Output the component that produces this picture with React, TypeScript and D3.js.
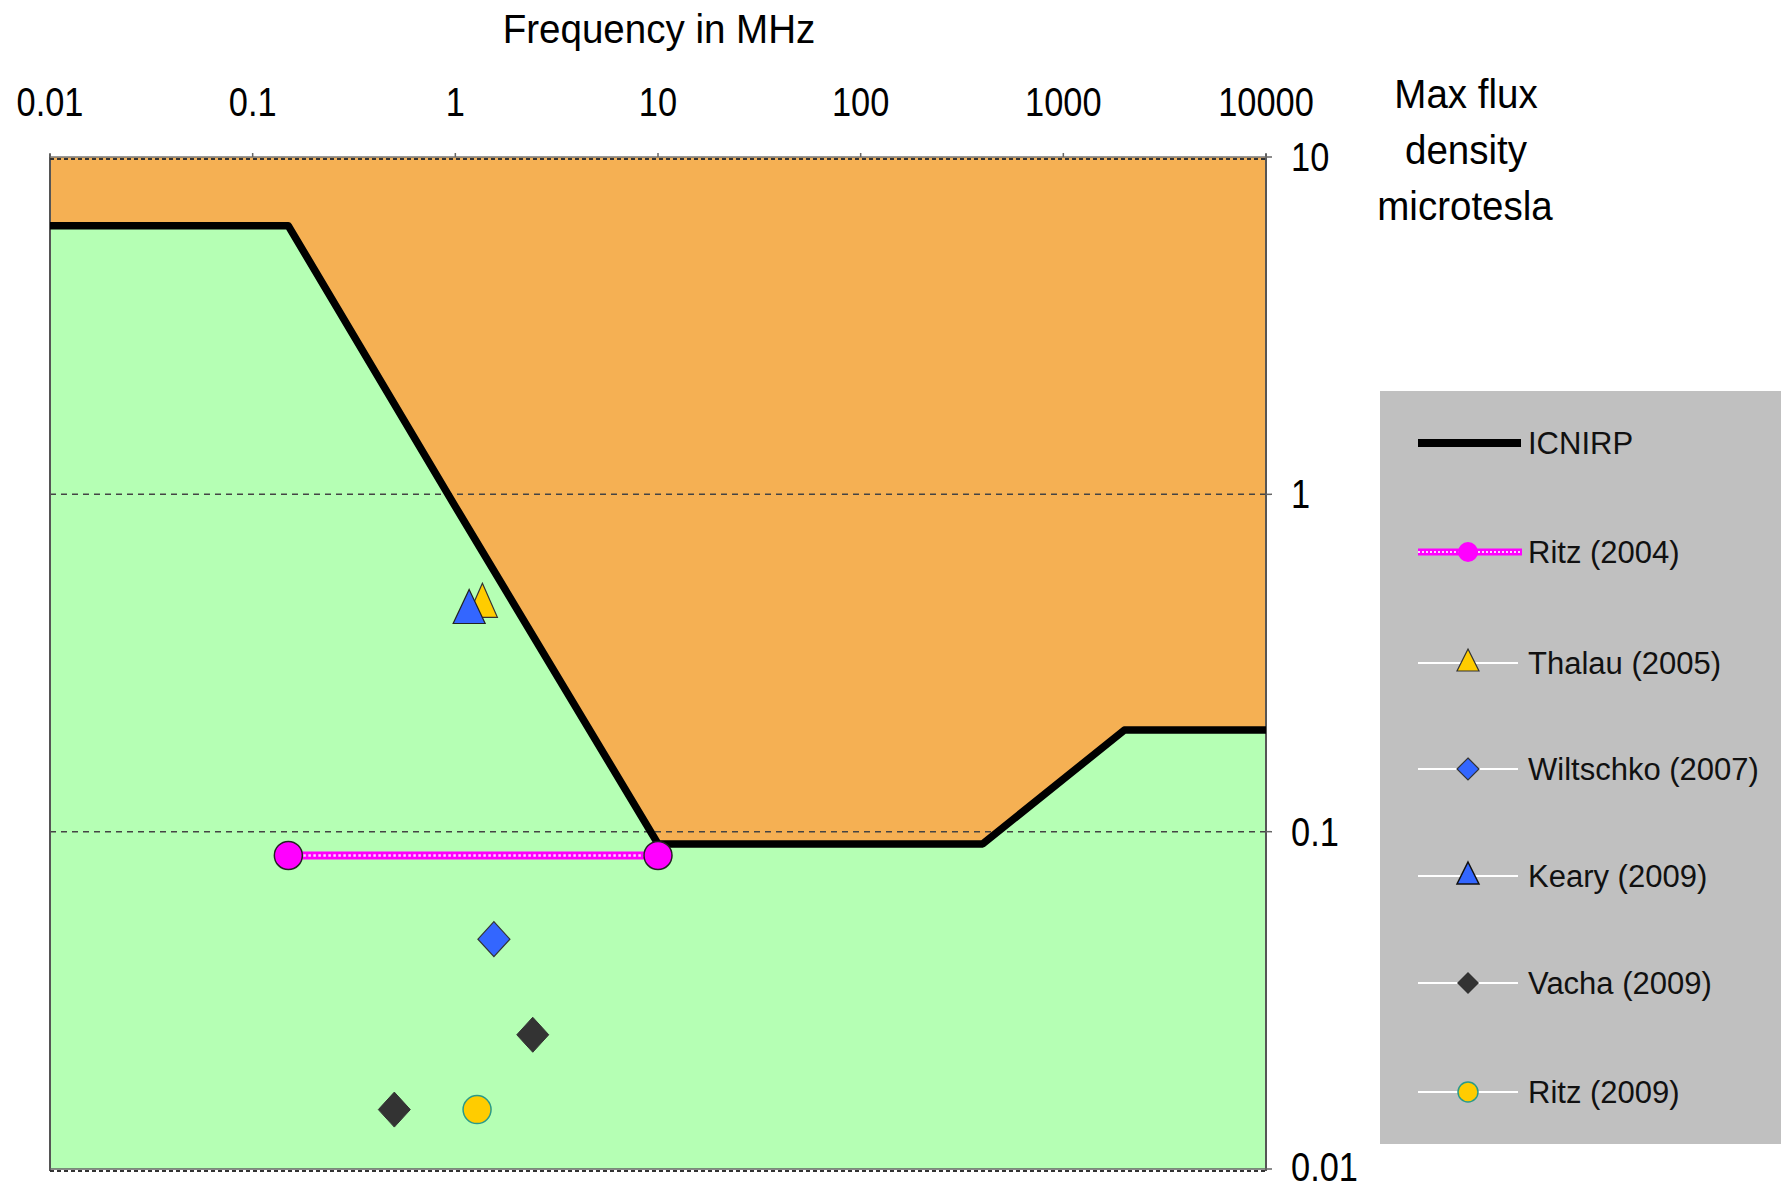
import React, { useEffect, useRef } from "react";
import * as d3 from "d3";

// axis ticks
const freqTicks = [0.01, 0.1, 1, 10, 100, 1000, 10000];
const freqLabels = ["0.01", "0.1", "1", "10", "100", "1000", "10000"];
const fluxTicks = [10, 1, 0.1, 0.01];
const fluxLabels = ["10", "1", "0.1", "0.01"];

// ICNIRP limit (MHz, microtesla)
const icnirpFreq = [0.01, 0.15, 1, 10, 400, 2000, 10000];
const icnirpFlux = [6.25, 6.25, 0.92, 0.092, 0.092, 0.2, 0.2];

// studies
const ritz2004Freq = [0.15, 10];
const ritz2004Flux = [0.085, 0.085];
const thalauFreq = [1.36];
const thalauFlux = [0.485];
const wiltschkoFreq = [1.55];
const wiltschkoFlux = [0.048];
const kearyFreq = [1.17];
const kearyFlux = [0.465];
const vachaFreq = [0.5, 2.41];
const vachaFlux = [0.015, 0.025];
const ritz2009Freq = [1.28];
const ritz2009Flux = [0.015];

const legendNames = ["ICNIRP", "Ritz (2004)", "Thalau (2005)", "Wiltschko (2007)", "Keary (2009)", "Vacha (2009)", "Ritz (2009)"];

const W = 1781;
const H = 1190;

function trianglePath(cx: number, cy: number, w: number, h: number) {
    const p = d3.path();
    p.moveTo(cx, cy - h / 2);
    p.lineTo(cx + w / 2, cy + h / 2);
    p.lineTo(cx - w / 2, cy + h / 2);
    p.closePath();
    return p.toString();
}

function diamondPath(cx: number, cy: number, w: number, h: number) {
    const p = d3.path();
    p.moveTo(cx, cy - h / 2);
    p.lineTo(cx + w / 2, cy);
    p.lineTo(cx, cy + h / 2);
    p.lineTo(cx - w / 2, cy);
    p.closePath();
    return p.toString();
}

export default function App() {
    const ref = useRef<SVGSVGElement>(null);

    useEffect(() => {
        document.body.style.margin = "0";
        const svg = d3.select(ref.current);
        svg.selectAll("*").remove();

        const x = d3.scaleLog().domain([0.01, 10000]).range([50, 1266]);
        const y = d3.scaleLog().domain([10, 0.01]).range([157, 1169]);

        const x0 = x(0.01), x1 = x(10000), yTop = y(10), yBot = y(0.01);

        // condensed text, like the narrow font of the original
        const narrow = (str: string, tx: number, ty: number, size: number, anchor: string, sx: number) => {
            svg.append("text")
                .attr("transform", "translate(" + tx + "," + ty + ") scale(" + sx + ",1)")
                .attr("text-anchor", anchor)
                .attr("font-family", "'Liberation Sans', Arial, sans-serif")
                .attr("font-size", size)
                .attr("fill", "#000")
                .text(str);
        };

        // orange zone above the limit
        svg.append("rect")
            .attr("x", x0).attr("y", yTop)
            .attr("width", x1 - x0).attr("height", yBot - yTop)
            .attr("fill", "#F5B053");

        const icnirp = icnirpFreq.map((f, i) => ({ f, b: icnirpFlux[i] }));

        // green zone below the limit
        svg.append("path")
            .datum(icnirp)
            .attr("fill", "#B5FFB4")
            .attr("d", d3.area<any>().x(d => x(d.f)).y0(yBot).y1(d => y(d.b)));

        // dashed gridlines
        [1, 0.1].forEach(v => {
            svg.append("line")
                .attr("x1", x0).attr("x2", x1 + 4)
                .attr("y1", y(v)).attr("y2", y(v))
                .attr("stroke", "#444").attr("stroke-width", 1.5)
                .attr("stroke-dasharray", "6 5");
        });

        // frame
        [x0, x1].forEach(v => {
            svg.append("line")
                .attr("x1", v).attr("x2", v)
                .attr("y1", yTop - 3).attr("y2", yBot + 2)
                .attr("stroke", "#555").attr("stroke-width", 2);
        });
        svg.append("line")
            .attr("x1", x0).attr("x2", x1).attr("y1", yTop).attr("y2", yTop)
            .attr("stroke", "#777").attr("stroke-width", 1.5);
        svg.append("line")
            .attr("x1", x0).attr("x2", x1).attr("y1", yTop + 2).attr("y2", yTop + 2)
            .attr("stroke", "#333").attr("stroke-width", 2).attr("stroke-dasharray", "4 3");
        svg.append("line")
            .attr("x1", x0).attr("x2", x1).attr("y1", yBot).attr("y2", yBot)
            .attr("stroke", "#666").attr("stroke-width", 1.5);
        svg.append("line")
            .attr("x1", x0).attr("x2", x1).attr("y1", yBot + 2).attr("y2", yBot + 2)
            .attr("stroke", "#333").attr("stroke-width", 2).attr("stroke-dasharray", "4 3");

        // axis ticks
        freqTicks.forEach(f => {
            svg.append("line")
                .attr("x1", x(f)).attr("x2", x(f))
                .attr("y1", yTop - 4).attr("y2", yTop)
                .attr("stroke", "#666").attr("stroke-width", 1.5);
        });
        fluxTicks.forEach(v => {
            svg.append("line")
                .attr("x1", x1).attr("x2", x1 + 6)
                .attr("y1", y(v)).attr("y2", y(v))
                .attr("stroke", "#666").attr("stroke-width", 1.5);
        });

        // ICNIRP limit line
        svg.append("path")
            .datum(icnirp)
            .attr("fill", "none")
            .attr("stroke", "#000")
            .attr("stroke-width", 7.5)
            .attr("stroke-linejoin", "round")
            .attr("d", d3.line<any>().x(d => x(d.f)).y(d => y(d.b)));

        // Ritz (2004) band
        const ritzLine = d3.line<number>().x(f => x(f)).y((f, i) => y(ritz2004Flux[i]));
        svg.append("path").attr("d", ritzLine(ritz2004Freq)).attr("fill", "none")
            .attr("stroke", "#FF00FF").attr("stroke-width", 8);
        svg.append("path").attr("d", ritzLine(ritz2004Freq)).attr("fill", "none")
            .attr("stroke", "#FFD0FF").attr("stroke-width", 2.5).attr("stroke-dasharray", "2.5 2.5");
        ritz2004Freq.forEach((f, i) => {
            svg.append("circle").attr("cx", x(f)).attr("cy", y(ritz2004Flux[i])).attr("r", 14)
                .attr("fill", "#FF00FF").attr("stroke", "#222").attr("stroke-width", 1.5);
        });

        // Thalau (2005)
        thalauFreq.forEach((f, i) => {
            svg.append("path").attr("d", trianglePath(x(f), y(thalauFlux[i]), 30, 34))
                .attr("fill", "#FFCC00").attr("stroke", "#333").attr("stroke-width", 1.2);
        });
        // Wiltschko (2007)
        wiltschkoFreq.forEach((f, i) => {
            svg.append("path").attr("d", diamondPath(x(f), y(wiltschkoFlux[i]), 32, 35))
                .attr("fill", "#3366FF").attr("stroke", "#333").attr("stroke-width", 1.2);
        });
        // Keary (2009)
        kearyFreq.forEach((f, i) => {
            svg.append("path").attr("d", trianglePath(x(f), y(kearyFlux[i]), 32, 34))
                .attr("fill", "#3366FF").attr("stroke", "#222").attr("stroke-width", 1.2);
        });
        // Vacha (2009)
        vachaFreq.forEach((f, i) => {
            svg.append("path").attr("d", diamondPath(x(f), y(vachaFlux[i]), 32, 35))
                .attr("fill", "#333333").attr("stroke", "#333").attr("stroke-width", 1);
        });
        // Ritz (2009)
        ritz2009Freq.forEach((f, i) => {
            svg.append("circle").attr("cx", x(f)).attr("cy", y(ritz2009Flux[i])).attr("r", 14)
                .attr("fill", "#FFCC00").attr("stroke", "#2A9A8A").attr("stroke-width", 1.5);
        });

        // axis labels
        freqTicks.forEach((f, i) => narrow(freqLabels[i], x(f), 116, 40, "middle", 0.86));
        fluxTicks.forEach((v, i) => narrow(fluxLabels[i], 1291, Math.min(y(v) + 14, 1181), 40, "start", 0.86));
        narrow("Frequency in MHz", 659, 43, 41, "middle", 0.94);
        narrow("Max flux", 1466, 108, 41, "middle", 0.94);
        narrow("density", 1466, 164, 41, "middle", 0.94);
        narrow("microtesla", 1465, 220, 41, "middle", 0.94);

        // legend
        svg.append("rect").attr("x", 1380).attr("y", 391).attr("width", 420).attr("height", 753)
            .attr("fill", "#C0C0C0");
        const ly = [443, 552, 663, 769, 876, 983, 1092];
        const lx0 = 1418, lx1 = 1518, lxc = 1468;
        legendNames.forEach((name, i) => {
            const cy = ly[i];
            if (i === 0) {
                svg.append("line").attr("x1", lx0).attr("x2", lx1 + 3).attr("y1", cy).attr("y2", cy)
                    .attr("stroke", "#000").attr("stroke-width", 8);
            } else if (i === 1) {
                svg.append("line").attr("x1", lx0).attr("x2", lx1 + 4).attr("y1", cy).attr("y2", cy)
                    .attr("stroke", "#FF00FF").attr("stroke-width", 7);
                svg.append("line").attr("x1", lx0).attr("x2", lx1 + 4).attr("y1", cy).attr("y2", cy)
                    .attr("stroke", "#FFD0FF").attr("stroke-width", 2).attr("stroke-dasharray", "2 2");
                svg.append("circle").attr("cx", lxc).attr("cy", cy).attr("r", 10).attr("fill", "#FF00FF");
            } else {
                svg.append("line").attr("x1", lx0).attr("x2", lx1).attr("y1", cy).attr("y2", cy)
                    .attr("stroke", "#fff").attr("stroke-width", 2);
                if (i === 2) {
                    svg.append("path").attr("d", trianglePath(lxc, cy - 3, 22, 22))
                        .attr("fill", "#FFCC00").attr("stroke", "#333").attr("stroke-width", 1.2);
                } else if (i === 3) {
                    svg.append("path").attr("d", diamondPath(lxc, cy, 22, 22))
                        .attr("fill", "#3366FF").attr("stroke", "#333").attr("stroke-width", 1.2);
                } else if (i === 4) {
                    svg.append("path").attr("d", trianglePath(lxc, cy - 3, 22, 22))
                        .attr("fill", "#3366FF").attr("stroke", "#111").attr("stroke-width", 1.5);
                } else if (i === 5) {
                    svg.append("path").attr("d", diamondPath(lxc, cy, 22, 22))
                        .attr("fill", "#333333");
                } else {
                    svg.append("circle").attr("cx", lxc).attr("cy", cy).attr("r", 10)
                        .attr("fill", "#FFCC00").attr("stroke", "#2A9A8A").attr("stroke-width", 1.5);
                }
            }
            svg.append("text")
                .attr("x", 1528).attr("y", cy + 11)
                .attr("font-family", "'Liberation Sans', Arial, sans-serif")
                .attr("font-size", 31)
                .attr("fill", "#111")
                .text(name);
        });
    }, []);

    return <svg ref={ref} width={W} height={H} style={{ display: "block" }} />;
}
